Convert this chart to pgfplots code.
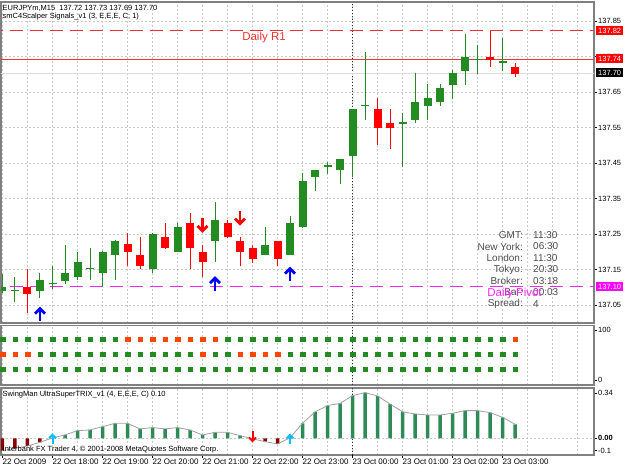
\documentclass[border=0pt]{standalone}
\usepackage{pgfplots}
\pgfplotsset{compat=1.18}
\usepackage{pgfplotstable}
\usepackage{fontspec}
\setmainfont{Liberation Sans}

\definecolor{cgreen}{RGB}{34,139,34}
\definecolor{cred}{RGB}{255,0,0}
\definecolor{sorange}{RGB}{255,69,0}
\definecolor{tgreen}{RGB}{46,139,87}
\definecolor{tred}{RGB}{139,0,0}
\definecolor{gridc}{RGB}{200,200,200}
\definecolor{framec}{RGB}{128,128,128}
\definecolor{infoc}{RGB}{75,75,75}
\definecolor{arrowblue}{RGB}{0,0,255}
\definecolor{cyanarrow}{RGB}{0,191,255}
\definecolor{pivotc}{RGB}{255,0,255}
\definecolor{r1c}{RGB}{240,50,50}
\definecolor{bidc}{RGB}{220,220,220}
\definecolor{trixline}{RGB}{160,160,160}

\pgfdeclareplotmark{bigup}{%
  \pgfsetlinewidth{2.8pt}\pgfsetbuttcap\pgfsetmiterjoin
  \pgfpathmoveto{\pgfpoint{0pt}{-7pt}}\pgfpathlineto{\pgfpoint{0pt}{5pt}}\pgfusepathqstroke
  \pgfpathmoveto{\pgfpoint{-5pt}{0.5pt}}\pgfpathlineto{\pgfpoint{0pt}{5.5pt}}\pgfpathlineto{\pgfpoint{5pt}{0.5pt}}\pgfusepathqstroke}
\pgfdeclareplotmark{bigdown}{%
  \pgfsetlinewidth{2.8pt}\pgfsetbuttcap\pgfsetmiterjoin
  \pgfpathmoveto{\pgfpoint{0pt}{7pt}}\pgfpathlineto{\pgfpoint{0pt}{-5pt}}\pgfusepathqstroke
  \pgfpathmoveto{\pgfpoint{-5pt}{-0.5pt}}\pgfpathlineto{\pgfpoint{0pt}{-5.5pt}}\pgfpathlineto{\pgfpoint{5pt}{-0.5pt}}\pgfusepathqstroke}
\pgfdeclareplotmark{smallup}{%
  \pgfsetlinewidth{2pt}\pgfsetbuttcap\pgfsetmiterjoin
  \pgfpathmoveto{\pgfpoint{0pt}{-5.5pt}}\pgfpathlineto{\pgfpoint{0pt}{3.5pt}}\pgfusepathqstroke
  \pgfpathmoveto{\pgfpoint{-3.5pt}{0.5pt}}\pgfpathlineto{\pgfpoint{0pt}{4pt}}\pgfpathlineto{\pgfpoint{3.5pt}{0.5pt}}\pgfusepathqstroke}
\pgfdeclareplotmark{smalldown}{%
  \pgfsetlinewidth{2pt}\pgfsetbuttcap\pgfsetmiterjoin
  \pgfpathmoveto{\pgfpoint{0pt}{5.5pt}}\pgfpathlineto{\pgfpoint{0pt}{-3.5pt}}\pgfusepathqstroke
  \pgfpathmoveto{\pgfpoint{-3.5pt}{-0.5pt}}\pgfpathlineto{\pgfpoint{0pt}{-4pt}}\pgfpathlineto{\pgfpoint{3.5pt}{-0.5pt}}\pgfusepathqstroke}

% bullish (and doji) candles: bar index, open, high, low, close
\pgfplotstableread{
k o h l c
0 137.090 137.136 137.083 137.100
1 137.089 137.130 137.059 137.093
3 137.089 137.139 137.069 137.120
4 137.108 137.160 137.094 137.112
5 137.118 137.219 137.109 137.141
6 137.130 137.200 137.120 137.172
7 137.150 137.210 137.120 137.154
8 137.139 137.201 137.102 137.200
9 137.191 137.232 137.120 137.230
12 137.151 137.252 137.139 137.250
14 137.200 137.282 137.199 137.271
17 137.230 137.341 137.172 137.289
21 137.191 137.271 137.190 137.219
23 137.191 137.301 137.190 137.280
24 137.269 137.421 137.268 137.400
25 137.410 137.431 137.371 137.430
26 137.439 137.454 137.419 137.443
27 137.430 137.462 137.391 137.461
28 137.470 137.602 137.411 137.601
29 137.610 137.762 137.571 137.614
32 137.561 137.592 137.440 137.565
33 137.571 137.703 137.562 137.621
34 137.611 137.673 137.571 137.632
35 137.621 137.673 137.611 137.660
36 137.670 137.712 137.630 137.703
37 137.710 137.812 137.670 137.749
38 137.739 137.782 137.701 137.743
40 137.733 137.801 137.710 137.737
}\bull
% bearish candles
\pgfplotstableread{
k o h l c
2 137.100 137.151 137.028 137.080
10 137.221 137.252 137.160 137.200
11 137.191 137.241 137.151 137.160
13 137.241 137.280 137.209 137.210
15 137.282 137.310 137.151 137.210
16 137.200 137.219 137.130 137.170
18 137.280 137.289 137.240 137.241
19 137.230 137.241 137.160 137.200
20 137.210 137.219 137.169 137.180
22 137.230 137.231 137.160 137.180
30 137.601 137.632 137.501 137.549
31 137.562 137.601 137.489 137.549
39 137.749 137.822 137.721 137.740
41 137.721 137.731 137.691 137.700
}\bear
% TRIX histogram
\pgfplotstableread{
k v
0 -0.094
1 -0.076
2 -0.058
3 -0.030
4 0.003
5 0.025
6 0.058
7 0.063
8 0.088
9 0.113
10 0.113
11 0.071
12 0.081
13 0.071
14 0.081
15 0.063
16 0.025
17 0.045
18 0.045
19 0.020
20 -0.004
21 -0.025
22 -0.043
23 0.004
24 0.113
25 0.200
26 0.247
27 0.264
28 0.322
29 0.345
30 0.320
31 0.259
32 0.200
33 0.184
34 0.176
35 0.176
36 0.189
37 0.209
38 0.209
39 0.194
40 0.159
41 0.106
}\trix
\pgfplotstableread{
k v
4 0.003
5 0.025
6 0.058
7 0.063
8 0.088
9 0.113
10 0.113
11 0.071
12 0.081
13 0.071
14 0.081
15 0.063
16 0.025
17 0.045
18 0.045
19 0.020
23 0.004
24 0.113
25 0.200
26 0.247
27 0.264
28 0.322
29 0.345
30 0.320
31 0.259
32 0.200
33 0.184
34 0.176
35 0.176
36 0.189
37 0.209
38 0.209
39 0.194
40 0.159
41 0.106
}\trixpos
\pgfplotstableread{
k v
0 -0.094
1 -0.076
2 -0.058
3 -0.030
20 -0.004
21 -0.025
22 -0.043
}\trixneg

\pgfplotsset{
  mtaxis/.style={
    scale only axis, width=593pt, anchor=south west,
    xmin=-0.12, xmax=47.32,
    axis line style={draw=framec, line width=1.5pt},
    xtick={0,2,...,46}, xticklabels={},
    xtick style={draw=none},
    ytick pos=right, tick align=outside, major tick length=3pt,
    ytick style={draw=black, line width=0.6pt},
    xmajorgrids,
    grid style={gridc, dash pattern=on 2pt off 2pt, line width=0.6pt},
    extra x ticks={28}, extra x tick labels={},
    extra x tick style={grid=major, major grid style={black!80, dash pattern=on 1pt off 2pt, line width=0.8pt}},
    tick label style={font=\fontsize{7.5}{8}\selectfont, text=black},
    yticklabel style={anchor=west, inner xsep=1pt},
  }
}

\begin{document}
\begin{tikzpicture}
\useasboundingbox (0pt,0pt) rectangle (625pt,469pt);

% ---------------- main price panel ----------------
\begin{axis}[mtaxis, at={(1pt,146pt)}, height=321pt,
  ymin=136.9993, ymax=137.9035,
  ytick={137.05,137.15,137.25,137.35,137.45,137.55,137.65,137.75,137.85},
  yticklabels={137.05,137.15,137.25,137.35,137.45,137.55,137.65,137.75,137.85},
  ymajorgrids]
  % level lines: bid, daily R1, daily pivot
  \addplot[color=bidc, solid, line width=1pt, forget plot] coordinates {(-1,137.703) (48,137.703)};
  \addplot[color=r1c, line width=1pt, dash pattern=on 13pt off 7pt, forget plot] coordinates {(-1,137.822) (48,137.822)};
  \addplot[color=pivotc!85, line width=1pt, dash pattern=on 13pt off 7pt, forget plot] coordinates {(-1,137.101) (48,137.101)};
  \draw[draw=red!80!white, line width=1pt] (axis cs:-1,137.742) -- (axis cs:48,137.742);
  % wicks
  \addplot[draw=none, mark=none, forget plot, error bars/.cd, y dir=plus, y explicit, error mark=none,
    error bar style={draw=cgreen, line width=1pt}]
    table[x=k, y=l, y error plus expr=\thisrow{h}-\thisrow{l}] {\bull};
  \addplot[draw=none, mark=none, forget plot, error bars/.cd, y dir=plus, y explicit, error mark=none,
    error bar style={draw=cred, line width=1pt}]
    table[x=k, y=l, y error plus expr=\thisrow{h}-\thisrow{l}] {\bear};
  % bodies
  \addplot[draw=none, mark=none, forget plot, error bars/.cd, y dir=plus, y explicit, error mark=none,
    error bar style={draw=cgreen, line width=8pt}]
    table[x=k, y=o, y error plus expr=\thisrow{c}-\thisrow{o}] {\bull};
  \addplot[draw=none, mark=none, forget plot, error bars/.cd, y dir=plus, y explicit, error mark=none,
    error bar style={draw=cred, line width=8pt}]
    table[x=k, y=c, y error plus expr=\thisrow{o}-\thisrow{c}] {\bear};
  % signal arrows
  \addplot[only marks, mark=bigup, arrowblue, forget plot] coordinates {(3,137.024) (17,137.110) (23,137.137)};
  \addplot[only marks, mark=bigdown, cred, forget plot] coordinates {(16,137.274) (19,137.295)};
\end{axis}

% ---------------- signals panel ----------------
\begin{axis}[mtaxis, at={(1pt,84pt)}, height=59.5pt,
  ymin=-10, ymax=109, ytick={0,100}, yticklabels={0,100}]
  \addplot[only marks, mark=square*, mark size=2.25pt, cgreen, forget plot] coordinates {
    (0,81.4)(1,81.4)(2,81.4)(3,81.4)(4,81.4)(5,81.4)(6,81.4)(7,81.4)(8,81.4)(9,81.4)
    (18,81.4)(19,81.4)(20,81.4)(21,81.4)(22,81.4)(23,81.4)(24,81.4)(25,81.4)(26,81.4)(27,81.4)
    (28,81.4)(29,81.4)(30,81.4)(31,81.4)(32,81.4)(33,81.4)(34,81.4)(35,81.4)(36,81.4)(37,81.4)
    (38,81.4)(39,81.4)(40,81.4)
    (3,51.4)(4,51.4)(5,51.4)(6,51.4)(7,51.4)(8,51.4)(9,51.4)(10,51.4)(11,51.4)(12,51.4)
    (13,51.4)(14,51.4)(15,51.4)(17,51.4)(18,51.4)(23,51.4)(24,51.4)(25,51.4)(26,51.4)(27,51.4)
    (28,51.4)(29,51.4)(30,51.4)(31,51.4)(32,51.4)(33,51.4)(34,51.4)(35,51.4)(36,51.4)(37,51.4)
    (38,51.4)(39,51.4)(40,51.4)(41,51.4)
    (0,21.4)(1,21.4)(2,21.4)(3,21.4)(4,21.4)(5,21.4)(6,21.4)(7,21.4)(8,21.4)(9,21.4)
    (10,21.4)(11,21.4)(12,21.4)(13,21.4)(14,21.4)(15,21.4)(16,21.4)(17,21.4)(18,21.4)(19,21.4)
    (20,21.4)(21,21.4)(22,21.4)(23,21.4)(24,21.4)(25,21.4)(26,21.4)(27,21.4)(28,21.4)(29,21.4)
    (30,21.4)(31,21.4)(32,21.4)(33,21.4)(34,21.4)(35,21.4)(36,21.4)(37,21.4)(38,21.4)(39,21.4)
    (40,21.4)(41,21.4)};
  \addplot[only marks, mark=square*, mark size=2.25pt, sorange, forget plot] coordinates {
    (10,81.4)(11,81.4)(12,81.4)(13,81.4)(14,81.4)(15,81.4)(16,81.4)(17,81.4)(41,81.4)
    (0,51.4)(1,51.4)(2,51.4)(16,51.4)(19,51.4)(20,51.4)(21,51.4)(22,51.4)};
\end{axis}

% ---------------- TRIX panel ----------------
\begin{axis}[mtaxis, at={(1pt,14pt)}, height=67pt,
  ymin=-0.1262, ymax=0.380,
  ytick={-0.092,0,0.34}, yticklabels={-0.1,\textbf{0.00},0.34},
  xtick={0,4,...,40},
  xticklabels={22 Oct 2009,22 Oct 18:00,22 Oct 19:00,22 Oct 20:00,22 Oct 21:00,22 Oct 22:00,22 Oct 23:00,23 Oct 00:00,23 Oct 01:00,23 Oct 02:00,23 Oct 03:00},
  minor xtick={2,6,...,46}, xminorgrids, minor grid style={gridc, dash pattern=on 2pt off 2pt, line width=0.6pt},
  minor tick length=0pt,
  xtick pos=bottom,
  xtick style={draw=black, line width=0.6pt},
  xticklabel style={anchor=north west, inner xsep=0pt, inner ysep=0.5pt, font=\fontsize{8}{9}\selectfont}]
  \addplot[color=gridc, dash pattern=on 2pt off 2pt, line width=0.8pt, forget plot] coordinates {(-1,0) (48,0)};
  \addplot[ybar, bar width=3.5pt, bar shift=0pt, fill=tgreen, draw=none, forget plot] table[x=k, y=v] {\trixpos};
  \addplot[ybar, bar width=3.5pt, bar shift=0pt, fill=tred, draw=none, forget plot] table[x=k, y=v] {\trixneg};
  \addplot[color=trixline, line width=0.8pt, forget plot] table[x=k, y=v] {\trix};
  \addplot[only marks, mark=smallup, cyanarrow, forget plot] coordinates {(4,-0.003) (23,-0.005)};
  \addplot[only marks, mark=smalldown, cred, forget plot] coordinates {(20,0.010)};
\end{axis}

% ---------------- texts ----------------
\begin{scope}[every node/.style={inner sep=0pt}]
  \node[anchor=west, font=\fontsize{7.5}{8}\selectfont] at (2.5pt,461pt) {EURJPYm,M15\ \ 137.72 137.73 137.69 137.70};
  \node[anchor=west, font=\fontsize{7.5}{8}\selectfont] at (2.5pt,452.5pt) {smC4Scalper Signals\_v1 (3, E,E,E, C; 1)};
  \node[font=\fontsize{11.5}{12}\selectfont, text=r1c] at (264pt,431pt) {Daily R1};
  \node[anchor=west, font=\fontsize{7.5}{8}\selectfont] at (2.5pt,74pt) {SwingMan UltraSuperTRIX\_v1 (4, E,E,E, C) 0.10};
  \node[anchor=west, font=\fontsize{7.5}{8}\selectfont] at (2.5pt,19pt) {Interbank FX Trader 4, © 2001-2008 MetaQuotes Software Corp.};
  % info block
  \begin{scope}[every node/.append style={font=\fontsize{10}{11}\selectfont, text=infoc}]
    \node[anchor=east] at (523pt,234pt) {GMT:};
    \node[anchor=east] at (523pt,222.5pt) {New York:};
    \node[anchor=east] at (523pt,211pt) {London:};
    \node[anchor=east] at (523pt,199.5pt) {Tokyo:};
    \node[anchor=east] at (523pt,188pt) {Broker:};
    \node[anchor=east] at (523pt,176.5pt) {Bar:};
    \node[anchor=east] at (523pt,165pt) {Spread:};
    \node[anchor=west] at (533pt,234pt) {11:30};
    \node[anchor=west] at (533pt,222.5pt) {06:30};
    \node[anchor=west] at (533pt,211pt) {11:30};
    \node[anchor=west] at (533pt,199.5pt) {20:30};
    \node[anchor=west] at (533pt,188pt) {03:18};
    \node[anchor=west] at (533pt,176.5pt) {00:03};
    \node[anchor=west] at (533pt,165pt) {4};
  \end{scope}
  \node[font=\fontsize{11.5}{12}\selectfont, text=pivotc!85] at (514.5pt,175pt) {Daily Pivot};
  % price boxes on the right scale
  \begin{scope}[every node/.append style={anchor=west, font=\fontsize{7.5}{8}\selectfont, text=white, minimum width=27pt, minimum height=9pt}]
    \node[fill=cred] at (596pt,438pt) {137.82};
    \node[fill=cred] at (596pt,410pt) {137.74};
    \node[fill=black] at (596pt,396pt) {137.70};
    \node[fill=pivotc] at (596pt,182pt) {137.10};
  \end{scope}
\end{scope}
\end{tikzpicture}
\end{document}
